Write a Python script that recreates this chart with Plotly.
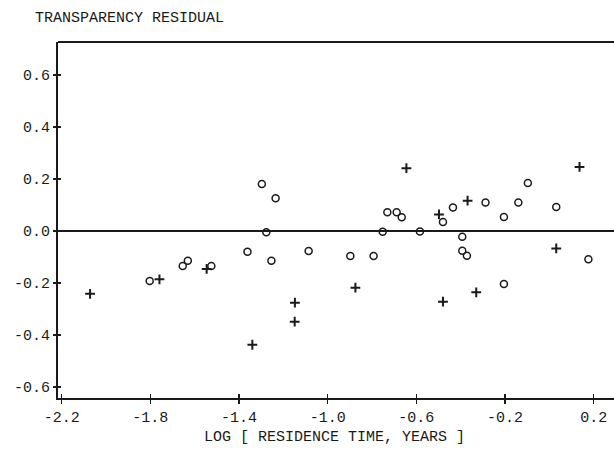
import plotly.graph_objects as go

# Open circles
circle_x = [-1.803, -1.654, -1.631, -1.525, -1.362, -1.297, -1.277, -1.254, -1.235,
            -1.086, -0.898, -0.793, -0.752, -0.731, -0.689, -0.666, -0.584, -0.480,
            -0.435, -0.393, -0.393, -0.372, -0.288, -0.205, -0.205, -0.140, -0.097,
            0.031, 0.176]
circle_y = [-0.192, -0.135, -0.114, -0.135, -0.080, 0.181, -0.005, -0.114, 0.126,
            -0.077, -0.096, -0.096, -0.003, 0.072, 0.072, 0.053, -0.002, 0.035,
            0.091, -0.022, -0.076, -0.095, 0.110, 0.054, -0.204, 0.110, 0.185,
            0.093, -0.109]

# Plus signs
plus_x = [-2.072, -1.759, -1.546, -1.340, -1.148, -1.149, -0.875, -0.645, -0.498,
          -0.480, -0.369, -0.330, 0.031, 0.136]
plus_y = [-0.242, -0.186, -0.146, -0.438, -0.276, -0.349, -0.218, 0.242, 0.064,
          -0.272, 0.117, -0.236, -0.067, 0.247]

x_ticks = [-2.2, -1.8, -1.4, -1.0, -0.6, -0.2, 0.2]
x_tick_labels = ["-2.2", "-1.8", "-1.4", "-1.0", "-0.6", "-0.2", "0.2"]
y_ticks = [0.6, 0.4, 0.2, 0.0, -0.2, -0.4, -0.6]
y_tick_labels = ["0.6", "0.4", "0.2", "0.0", "-0.2", "-0.4", "-0.6"]

title_text = "TRANSPARENCY RESIDUAL"
x_title_text = "LOG [ RESIDENCE TIME, YEARS ]"

INK = "#1a1a1a"
FONT = "Liberation Mono"
# figure is slightly wider than the window so the plot frame runs off the right edge
FIG_W = 622
X_RANGE = [-2.2167, -2.2167 + (FIG_W - 58) / 221.67]
Y_RANGE = [-0.643, 0.728]

fig = go.Figure()
fig.add_trace(go.Scatter(
    x=circle_x, y=circle_y, mode="markers",
    marker=dict(symbol="circle-open", size=7, color=INK, line=dict(width=1.5, color=INK)),
    showlegend=False, hoverinfo="skip"))
fig.add_trace(go.Scatter(
    x=plus_x, y=plus_y, mode="markers",
    marker=dict(symbol="cross-thin-open", size=7, color=INK, line=dict(width=2, color=INK)),
    showlegend=False, hoverinfo="skip"))
# empty trace so the overlay axes (inner half of the crossing ticks) render
fig.add_trace(go.Scatter(x=[], y=[], xaxis="x2", yaxis="y2", mode="markers",
                         showlegend=False, hoverinfo="skip"))

fig.update_layout(
    width=FIG_W, height=449,
    margin=dict(l=58, r=0, t=42, b=51, autoexpand=False),
    paper_bgcolor="white", plot_bgcolor="white",
    font=dict(family=FONT, size=15, color=INK),
    showlegend=False,
    title=dict(text=title_text, x=35 / FIG_W, xanchor="left", xref="container",
               y=1 - 17 / 449, yanchor="middle", yref="container", automargin=False,
               font=dict(family=FONT, size=15, color=INK)),
    xaxis=dict(range=X_RANGE, tickmode="array", tickvals=x_ticks, ticktext=x_tick_labels,
               showgrid=False, zeroline=False, showline=True, linecolor=INK, linewidth=2,
               mirror=False, ticks="outside", ticklen=4, tickwidth=1.5, tickcolor=INK,
               automargin=False,
               tickfont=dict(family=FONT, size=15, color=INK), fixedrange=True),
    yaxis=dict(range=Y_RANGE, tickmode="array", tickvals=y_ticks, ticktext=y_tick_labels,
               showgrid=False, zeroline=True, zerolinecolor=INK, zerolinewidth=1.5,
               showline=True, linecolor=INK, linewidth=2, automargin=False, mirror=False,
               ticks="outside", ticklen=3, tickwidth=1.5, tickcolor=INK,
               tickfont=dict(family=FONT, size=15, color=INK), fixedrange=True),
    xaxis2=dict(range=X_RANGE, overlaying="x", anchor="y2", side="bottom",
                tickmode="array", tickvals=x_ticks, showticklabels=False, automargin=False,
                showgrid=False, zeroline=False, showline=False, fixedrange=True,
                ticks="inside", ticklen=4, tickwidth=1.5, tickcolor=INK),
    yaxis2=dict(range=Y_RANGE, overlaying="y", anchor="x2", side="left",
                tickmode="array", tickvals=y_ticks, showticklabels=False, automargin=False,
                showgrid=False, zeroline=False, showline=False, fixedrange=True,
                ticks="inside", ticklen=3, tickwidth=1.5, tickcolor=INK),
    shapes=[dict(type="line", xref="paper", yref="paper", x0=0, x1=1, y0=1, y1=1,
                 line=dict(color=INK, width=2))],
    annotations=[dict(text=x_title_text, xref="paper", yref="paper",
                      x=(334 - 58) / (FIG_W - 58), y=-(437 - 398) / 356,
                      xanchor="center", yanchor="middle", showarrow=False,
                      font=dict(family=FONT, size=15, color=INK))],
)

fig.write_html("out.html", config={"displayModeBar": False, "staticPlot": True},
               post_script="document.documentElement.style.overflow='hidden';"
                           "document.body.style.margin='0';document.body.style.overflow='hidden';")
